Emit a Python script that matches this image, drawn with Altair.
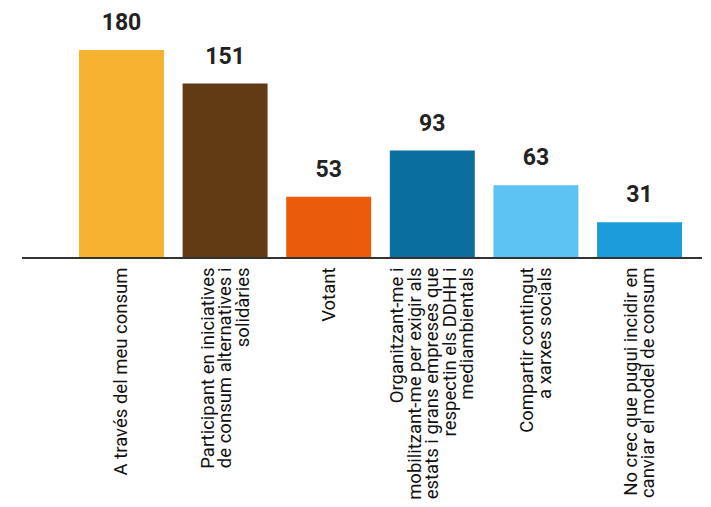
import altair as alt
import pandas as pd

categories = [
    ["A través del meu consum"],
    ["Participant en iniciatives", "de consum alternatives i", "solidàries"],
    ["Votant"],
    ["Organitzant-me i", "mobilitzant-me per exigir als", "estats i grans empreses que", "respectin els DDHH i", "mediambientals"],
    ["Compartir contingut", "a xarxes socials"],
    ["No crec que pugui incidir en", "canviar el model de consum"],
]
values = [180, 151, 53, 93, 63, 31]
colors = ["#F7B232", "#623B15", "#EA5B0C", "#0A6E9E", "#5DC3F3", "#1C9CD8"]

labels = ["|".join(c) for c in categories]
df = pd.DataFrame({"cat": labels, "value": values, "color": colors})

W, H = 603, 208
LH = 17.5

label_offset = {
    "condition": [
        {"test": f"length(split(datum.label, '|')) == {n}", "value": -(n - 1) * LH / 2}
        for n in (2, 3, 4, 5)
    ],
    "value": 0,
}

x = alt.X(
    "cat:N",
    sort=labels,
    scale=alt.Scale(paddingInner=0.18, paddingOuter=0),
    axis=alt.Axis(
        title=None,
        labelAngle=-90,
        labelAlign="right",
        labelBaseline="middle",
        labelExpr="split(datum.label, '|')",
        labelFont="Roboto",
        labelFontSize=18.5,
        labelLineHeight=LH,
        labelColor="#111111",
        labelPadding=9,
        labelOffset=label_offset,
        ticks=False,
        domain=False,
        labelLimit=400,
        labelOverlap=False,
    ),
)
y = alt.Y("value:Q", scale=alt.Scale(domain=[0, 180]), axis=None)

bars = alt.Chart(df).mark_bar().encode(
    x=x, y=y, color=alt.Color("color:N", scale=None)
)
text = alt.Chart(df).mark_text(
    font="Roboto", fontWeight="bold", fontSize=23, color="#222222",
    baseline="alphabetic", dy=-20,
).encode(x=x, y=y, text="value:Q")

rule = alt.Chart(df).mark_rule(color="#333333", strokeWidth=2).encode(
    x=alt.value(-57), x2=alt.value(632), y=alt.value(H)
)

chart = alt.layer(bars, text, rule).properties(
    width=W, height=H,
    autosize=alt.AutoSizeParams(type="none"),
    padding={"left": 71, "top": 42, "right": 20, "bottom": 270},
).configure_view(stroke=None)

chart.save("out.html", embed_options={"renderer": "svg", "actions": False})
